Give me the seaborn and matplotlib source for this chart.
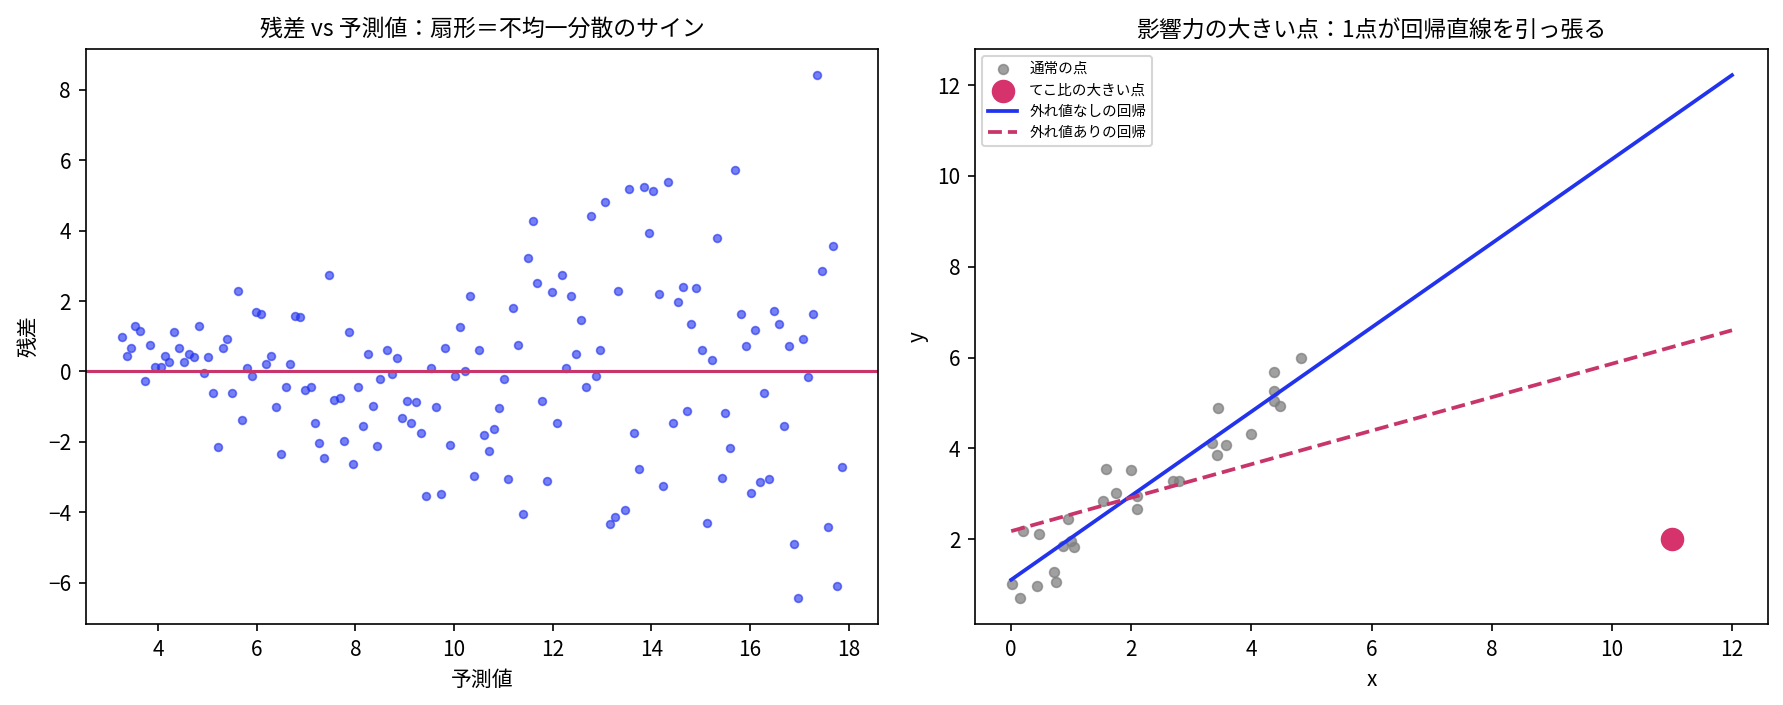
import numpy as np
import matplotlib
matplotlib.use("Agg")
import matplotlib.pyplot as plt
import seaborn as sns

plt.rcParams['font.family'] = ['Noto Sans CJK JP', 'DejaVu Sans']
plt.rcParams['axes.unicode_minus'] = True

# ---- left panel: residuals vs predicted ----
pred = [7.46, 5.61, 5.99, 6.09, 6.77, 6.88, 3.54, 3.64, 4.33, 4.82, 7.87, 3.26, 5.40, 3.46, 3.84,
        4.43, 5.32, 3.36, 4.13, 4.63, 4.73, 5.02, 6.29, 8.26, 4.23, 4.53, 6.19, 6.68, 3.94, 4.05,
        5.81, 4.92, 5.91, 3.74, 8.49, 6.60, 6.98, 7.09, 8.05, 5.11, 5.50, 7.56, 7.68, 6.39, 8.35,
        5.71, 7.18, 8.16, 7.26, 7.77, 5.22, 8.44, 6.49, 7.37, 7.95,
        13.05, 12.77, 11.60, 11.49, 12.18, 11.68, 11.98, 12.36, 10.32, 11.19, 12.57, 10.12, 13.33,
        8.64, 8.84, 9.81, 10.50, 11.29, 12.46, 12.96, 9.53, 8.74, 10.01, 10.22, 11.01, 12.26, 12.88,
        12.67, 9.05, 9.23, 9.63, 10.91, 11.78, 8.94, 9.13, 9.33, 10.81, 10.60, 12.08, 9.92, 10.71,
        10.40, 11.09, 11.88, 9.43, 9.73, 11.39, 13.15, 13.26,
        17.36, 15.70, 14.33, 13.54, 13.84, 14.04, 13.94, 15.32, 17.67, 17.46, 14.15, 14.63, 14.91,
        14.53, 14.81, 15.81, 16.49, 16.59, 16.09, 17.28, 17.08, 15.02, 15.22, 15.91, 16.78, 17.18,
        16.29, 14.73, 14.43, 15.50, 16.68, 13.64, 15.60, 13.74, 17.87, 14.23, 15.42, 16.19, 16.39,
        16.01, 13.46, 15.12, 17.57, 16.88, 17.77, 16.98]
resid = [2.75, 2.30, 1.70, 1.64, 1.57, 1.54, 1.30, 1.16, 1.13, 1.30, 1.11, 0.97, 0.92, 0.68, 0.74,
         0.68, 0.68, 0.43, 0.45, 0.51, 0.40, 0.40, 0.45, 0.51, 0.28, 0.26, 0.20, 0.20, 0.12, 0.14,
         0.11, -0.03, -0.14, -0.27, -0.20, -0.43, -0.54, -0.45, -0.45, -0.62, -0.62, -0.82, -0.74,
         -1.02, -0.98, -1.39, -1.47, -1.56, -2.04, -1.98, -2.15, -2.13, -2.35, -2.47, -2.64,
         4.82, 4.42, 4.28, 3.23, 2.75, 2.52, 2.27, 2.15, 2.15, 1.79, 1.45, 1.25, 2.30,
         0.60, 0.37, 0.68, 0.60, 0.74, 0.51, 0.62, 0.11, -0.06, -0.14, 0.02, -0.20, 0.11, -0.14,
         -0.43, -0.85, -0.88, -1.02, -1.05, -0.85, -1.33, -1.45, -1.76, -1.64, -1.81, -1.45, -2.10,
         -2.27, -2.98, -3.06, -3.12, -3.54, -3.49, -4.05, -4.34, -4.14,
         8.42, 5.72, 5.38, 5.19, 5.24, 5.13, 3.94, 3.80, 3.57, 2.86, 2.21, 2.41, 2.38,
         1.96, 1.36, 1.64, 1.73, 1.36, 1.19, 1.64, 0.92, 0.60, 0.34, 0.71, 0.71, -0.17,
         -0.62, -1.13, -1.45, -1.19, -1.56, -1.76, -2.18, -2.78, -2.72, -3.26, -3.03, -3.15, -3.06,
         -3.46, -3.94, -4.31, -4.42, -4.90, -6.09, -6.43]

# ---- right panel: leverage point ----
x_pts = [0.02, 0.15, 0.43, 0.72, 0.75, 0.20, 0.46, 0.94, 0.87, 1.00, 1.04, 1.57, 1.99, 1.74, 1.53,
         2.09, 2.09, 2.70, 2.80, 3.35, 3.42, 3.44, 3.57, 3.99, 4.37, 4.37, 4.37, 4.48, 4.83]
y_pts = [1.01, 0.71, 0.97, 1.27, 1.06, 2.19, 2.12, 2.45, 1.85, 1.96, 1.83, 3.54, 3.52, 3.02, 2.85,
         2.96, 2.67, 3.28, 3.28, 4.11, 3.85, 4.90, 4.08, 4.32, 5.69, 5.27, 5.04, 4.94, 5.98]
x_out = [11.0]
y_out = [2.0]

blue = "#2233ee"
crimson = "#c8356a"

fig, axes = plt.subplots(1, 2, figsize=(1783 / 150, 705 / 150), dpi=150)
fig.subplots_adjust(left=0.048, right=0.9916, bottom=0.115, top=0.9305, wspace=0.122)

# residual plot
ax = axes[0]
sns.scatterplot(x=pred, y=resid, ax=ax, color=blue, alpha=0.62, s=14,
                edgecolor="face", linewidth=0.8)
ax.axhline(0, color=crimson, lw=1.5)
ax.set_title("残差 vs 予測値：扇形＝不均一分散のサイン", fontsize=11)
ax.set_xlabel("予測値")
ax.set_ylabel("残差")

# leverage plot
ax = axes[1]
sns.scatterplot(x=x_pts, y=y_pts, ax=ax, color="gray", alpha=0.75, s=22,
                edgecolor="face", linewidth=0.8, label="通常の点")
sns.scatterplot(x=x_out, y=y_out, ax=ax, color="#d6336c", s=110,
                edgecolor="face", linewidth=0.8, label="てこ比の大きい点")

xx = np.linspace(0, 12, 100)
b1, a1 = np.polyfit(x_pts, y_pts, 1)
b2, a2 = np.polyfit(x_pts + x_out, y_pts + y_out, 1)
sns.lineplot(x=xx, y=a1 + b1 * xx, ax=ax, color=blue, lw=1.8, label="外れ値なしの回帰")
sns.lineplot(x=xx, y=a2 + b2 * xx, ax=ax, color=crimson, lw=1.8, linestyle="--",
             label="外れ値ありの回帰")
ax.set_title("影響力の大きい点：1点が回帰直線を引っ張る", fontsize=11)
ax.set_xlabel("x")
ax.set_ylabel("y")
ax.legend(loc="upper left", fontsize=7)

plt.savefig("out.png", dpi=150)
